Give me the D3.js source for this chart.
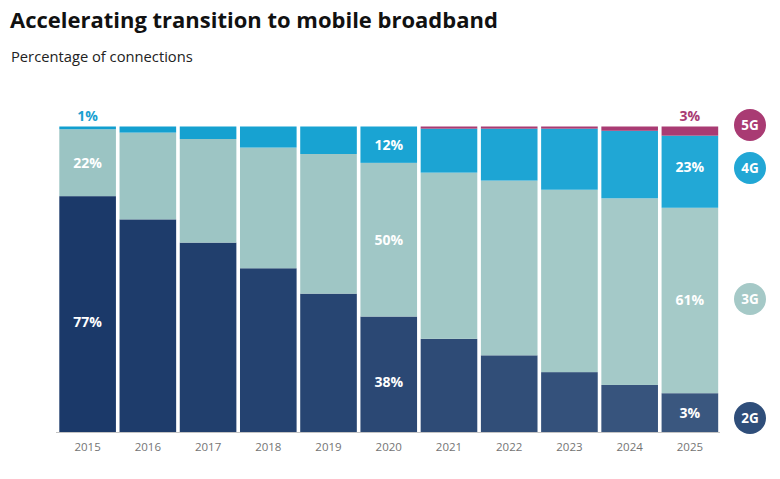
<!DOCTYPE html>
<html>
<head>
<meta charset="utf-8">
<script src="https://cdn.jsdelivr.net/npm/d3@7"></script>
<style>
  body { margin: 0; background: #fff; }
  svg text { font-family: "Open Sans", "DejaVu Sans", sans-serif; }
</style>
</head>
<body>
<div id="chart"></div>
<script>
// data (share of connections, %)
var years = ["2015","2016","2017","2018","2019","2020","2021","2022","2023","2024","2025"];
var techs = ["2G","3G","4G","5G"];
var g2 = [77.2, 69.6, 62.0, 53.6, 45.3, 37.8, 30.5, 25.1, 19.6, 15.4, 12.7];
var g3 = [21.9, 28.4, 33.9, 39.5, 45.7, 50.3, 54.4, 57.2, 59.7, 61.1, 60.7];
var g4 = [0.9, 2.0, 4.1, 6.9, 9.0, 11.9, 14.4, 17.0, 20.0, 22.1, 23.6];
var g5 = [0, 0, 0, 0, 0, 0, 0.7, 0.7, 0.7, 1.4, 3.0];

// value labels printed on the chart
var labelYears = ["2015","2015","2015","2020","2020","2020","2025","2025","2025","2025"];
var labelTechs = ["4G","3G","2G","4G","3G","2G","5G","4G","3G","2G"];
var labelTexts = ["1%","22%","77%","12%","50%","38%","3%","23%","61%","3%"];

var W = 780, H = 479;
var svg = d3.select("#chart").append("svg")
  .attr("width", W)
  .attr("height", H);

var rows = years.map(function(y, i){
  return {year: y, "2G": g2[i], "3G": g3[i], "4G": g4[i], "5G": g5[i]};
});
var stacked = d3.stack().keys(techs)(rows);

var x = d3.scaleBand().domain(years).range([57.5, 720]).paddingInner(0.06).paddingOuter(0.03);
var y = d3.scaleLinear().domain([0, 100]).range([432, 126.5]);

// 2G and 3G darken slightly toward the early years in the original
var col2G = d3.scaleLinear().domain([0, years.length-1]).range(["#1b3969", "#3a577f"]);
var col3G = d3.scaleLinear().domain([0, years.length-1]).range(["#9bc4c3", "#a5cac8"]);
var col4G = d3.scaleLinear().domain([0, years.length-1]).range(["#129fcf", "#22a8d6"]);
function fillFor(key, i){
  if (key=="2G") return col2G(i);
  if (key=="3G") return col3G(i);
  if (key=="4G") return col4G(i);
  return "#a93b73";
}

/* bars */
svg.selectAll("g.layer")
  .data(stacked)
  .enter()
  .append("g")
  .attr("class","layer")
  .each(function(layer){
    d3.select(this).selectAll("rect")
      .data(layer)
      .enter()
      .append("rect")
      .attr("x", function(d){return x(d.data.year);})
      .attr("width", x.bandwidth())
      .attr("y", function(d){return y(d[1]);})
      .attr("height", function(d){return y(d[0]) - y(d[1]);})
      .attr("fill", function(d,i){return fillFor(layer.key, i);});
  });

/* axis */
var xAxis = d3.axisBottom(x).tickSize(0).tickPadding(11);
var ax = svg.append("g").attr("transform","translate(0,432)").call(xAxis);
ax.select(".domain").attr("stroke","#c4c4c4").attr("stroke-width",1.2)
  .attr("d","M56,0.5H720");
ax.selectAll("text").attr("fill","#747474").attr("font-size",11.5).attr("font-family","\"Open Sans\", sans-serif");

/* value labels */
var labels = labelTexts.map(function(t, i){
  var li = years.indexOf(labelYears[i]);
  var layer = stacked[techs.indexOf(labelTechs[i])][li];
  return {text: t, year: labelYears[i], tech: labelTechs[i], lo: layer[0], hi: layer[1]};
});
svg.selectAll("text.val")
  .data(labels)
  .enter()
  .append("text")
  .attr("class","val")
  .attr("text-anchor","middle")
  .attr("x", function(d){return x(d.year) + x.bandwidth()/2;})
  .attr("y", function(d){
    // thin top slivers get their label above the bar
    if (d.hi - d.lo < 5) return y(100) - 6;
    // big 2G blocks sit their label a little below centre, as in the original
    var mid = (y(d.lo) + y(d.hi))/2 + 5;
    if (d.tech=="2G" && d.hi - d.lo > 30) mid += 8;
    if (d.tech=="4G" && d.hi - d.lo > 20) mid -= 5;
    return mid;
  })
  .attr("font-size", 14)
  .attr("font-weight", 700)
  .attr("fill", function(d){
    if (d.hi - d.lo < 5) return d.tech=="5G" ? "#a93b73" : "#1a9fd0";
    return "#ffffff";
  })
  .text(function(d){return d.text;});

/* legend */
var legendY = {"5G": 125, "4G": 168, "3G": 299, "2G": 418};
var legendCol = {"5G": "#a93b73", "4G": "#22a7d5", "3G": "#a5c9c7", "2G": "#2f4e7a"};
var leg = svg.selectAll("g.leg")
  .data(techs.slice().reverse())
  .enter()
  .append("g")
  .attr("class","leg")
  .attr("transform", function(d){return "translate(750," + legendY[d] + ")";});
leg.append("circle").attr("r",16).attr("fill", function(d){return legendCol[d];});
leg.append("text")
  .attr("text-anchor","middle")
  .attr("y",5)
  .attr("font-size",13.5)
  .attr("font-weight",700)
  .attr("fill","#fff")
  .text(function(d){return d;});

/* title */
var title = svg.append("text")
  .attr("x",10).attr("y",28)
  .attr("font-size",23)
  .attr("font-weight",700)
  .attr("fill","#111")
  .text("Accelerating transition to mobile broadband");
var tw = title.node().getComputedTextLength();
title.attr("font-size", 23*488/tw);

var sub = svg.append("text")
  .attr("x",11).attr("y",62)
  .attr("font-size",14)
  .attr("fill","#222")
  .text("Percentage of connections");
var sw = sub.node().getComputedTextLength();
sub.attr("font-size", 14*182/sw);
</script>
</body>
</html>
